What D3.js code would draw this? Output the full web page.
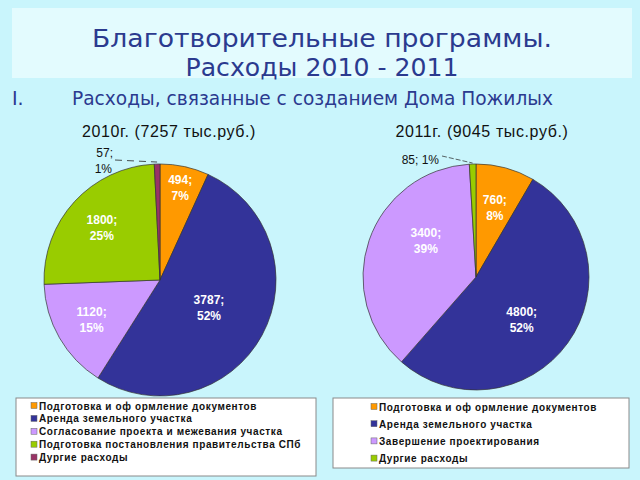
<!DOCTYPE html>
<html><head><meta charset="utf-8">
<script src="https://cdn.jsdelivr.net/npm/d3@7"></script>
<style>
html,body{margin:0;padding:0;background:#c9f5fc;}
svg{display:block;}
</style></head>
<body>
<svg id="chart" width="640" height="480"></svg>
<script>
// ---- data ----
const pageTitle = ["Благотворительные программы.", "Расходы 2010 - 2011"];
const sectionNumber = "I.";
const sectionTitle = "Расходы, связанные с созданием Дома Пожилых";

const titles2010 = "2010г. (7257 тыс.руб.)";
const categories2010 = ["Подготовка и оф ормление документов", "Аренда земельного участка", "Согласование проекта и межевания участка", "Подготовка постановления правительства СПб", "Дургие расходы"];
const values2010 = [494, 3787, 1120, 1800, 57];
const percents2010 = ["7%", "52%", "15%", "25%", "1%"];

const titles2011 = "2011г. (9045 тыс.руб.)";
const categories2011 = ["Подготовка и оф ормление документов", "Аренда земельного участка", "Завершение проектирования", "Дургие расходы"];
const values2011 = [760, 4800, 3400, 85];
const percents2011 = ["8%", "52%", "39%", "1%"];

const colors2010 = ["#ff9900", "#333399", "#cc99ff", "#99cc00", "#993366"];
const colors2011 = ["#ff9900", "#333399", "#cc99ff", "#99cc00"];

// ---- drawing ----
const svg = d3.select("#chart");
const titleColor = "#2b3a8f";
const titleFont = "DejaVu Sans";

svg.append("rect").attr("x", 12).attr("y", 8).attr("width", 620).attr("height", 70)
  .attr("fill", "#e3fbfe");
svg.append("text").attr("x", 322).attr("y", 47).attr("text-anchor", "middle")
  .attr("font-family", titleFont).attr("font-weight", "normal").attr("font-size", 25)
  .attr("fill", titleColor).attr("textLength", 460).attr("lengthAdjust", "spacingAndGlyphs").text(pageTitle[0]);
svg.append("text").attr("x", 322).attr("y", 76).attr("text-anchor", "middle")
  .attr("font-family", titleFont).attr("font-weight", "normal").attr("font-size", 25)
  .attr("fill", titleColor).attr("textLength", 273).attr("lengthAdjust", "spacingAndGlyphs").text(pageTitle[1]);
svg.append("text").attr("x", 12).attr("y", 105)
  .attr("font-family", titleFont).attr("font-weight", "normal").attr("font-size", 19)
  .attr("fill", titleColor).text(sectionNumber);
svg.append("text").attr("x", 72).attr("y", 105)
  .attr("font-family", titleFont).attr("font-weight", "normal").attr("font-size", 19)
  .attr("fill", titleColor).attr("textLength", 481).attr("lengthAdjust", "spacingAndGlyphs").text(sectionTitle);

function drawPie(opt) {
  const g = svg.append("g").attr("transform", `translate(${opt.cx},${opt.cy})`);
  const total = d3.sum(opt.values);
  const pie = d3.pie().sort(null).value(d => d)(opt.values);
  const arc = d3.arc().innerRadius(0).outerRadius(opt.r);
  g.selectAll("path").data(pie).join("path")
    .attr("d", arc)
    .attr("fill", (d, i) => opt.colors[i])
    .attr("stroke", "#333")
    .attr("stroke-width", 0.7);

  pie.forEach((d, i) => {
    const share = d.value / total;
    if (share < 0.02) return;
    const frac = opt.labelFrac(share);
    const a = (d.startAngle + d.endAngle) / 2 + opt.labelRot(share);
    const x = Math.sin(a) * opt.r * frac, y = -Math.cos(a) * opt.r * frac;
    const t = g.append("text").attr("text-anchor", "middle")
      .attr("font-family", "Liberation Sans, Arial").attr("font-weight", "bold")
      .attr("font-size", 12).attr("fill", "#ffffff");
    t.append("tspan").attr("x", x).attr("y", y - 3).text(d.value + ";");
    t.append("tspan").attr("x", x).attr("y", y + 13).text(opt.percents[i]);
  });

  svg.append("text").attr("x", opt.titleX).attr("y", 137).attr("text-anchor", "middle")
    .attr("font-family", "Liberation Sans, Arial").attr("font-size", 16)
    .attr("letter-spacing", 0.6).attr("fill", "#111").text(opt.title);

  // legend
  const L = opt.legend;
  svg.append("rect").attr("x", L.x).attr("y", L.y).attr("width", L.w).attr("height", L.h)
    .attr("fill", "#ffffff").attr("stroke", "#8a8a8a").attr("stroke-width", 1);
  opt.categories.forEach((c, i) => {
    const yy = L.y + L.first + i * L.step;
    svg.append("rect").attr("x", L.sx).attr("y", yy - 3.5).attr("width", 6).attr("height", 6)
      .attr("fill", opt.colors[i]).attr("stroke", "#666").attr("stroke-width", 0.5);
    svg.append("text").attr("x", L.sx + 8).attr("y", yy + 3.5)
      .attr("font-family", "Liberation Sans, Arial").attr("font-weight", "bold")
      .attr("font-size", 10).attr("letter-spacing", 0.6).attr("fill", "#111").text(c);
  });
  return { g, pie, total };
}

const p1 = drawPie({ cx: 160, cy: 280, r: 116, values: values2010, colors: colors2010,
  percents: percents2010, title: titles2010, titleX: 169, categories: categories2010,
  labelFrac: s => s > 0.5 ? 0.48 : (s < 0.1 ? 0.82 : 0.68),
  labelRot: s => 0,
  legend: { x: 16, y: 398, w: 300, h: 78, first: 8, step: 12.9, sx: 31 } });
const p2 = drawPie({ cx: 476, cy: 277, r: 113, values: values2011, colors: colors2011,
  percents: percents2011, title: titles2011, titleX: 482, categories: categories2011,
  labelFrac: s => s < 0.1 ? 0.64 : 0.55,
  labelRot: s => (s > 0.3 && s < 0.5) ? 0.3 : (s > 0.5 ? 0.12 : 0),
  legend: { x: 333, y: 398, w: 296, h: 70, first: 9, step: 17.2, sx: 371 } });

// small-slice outside labels with leaders
(function () {
  const d = p1.pie[4];
  const a = (d.startAngle + d.endAngle) / 2;
  const ex = 160 + Math.sin(a) * 118, ey = 280 - Math.cos(a) * 118;
  svg.append("path").attr("d", `M115,160 L${ex},${ey}`).attr("stroke", "#222")
    .attr("stroke-width", 0.8).attr("stroke-dasharray", "7,5").attr("fill", "none");
  const t = svg.append("text").attr("text-anchor", "end")
    .attr("font-family", "Liberation Sans, Arial").attr("font-size", 12).attr("fill", "#111");
  t.append("tspan").attr("x", 113).attr("y", 157).text(d.value + ";");
  t.append("tspan").attr("x", 112).attr("y", 173).text(percents2010[4]);
})();
(function () {
  const d = p2.pie[3];
  const a = (d.startAngle + d.endAngle) / 2;
  const ex = 476 + Math.sin(a) * 114, ey = 277 - Math.cos(a) * 114;
  svg.append("path").attr("d", `M442,156 L${ex},${ey}`).attr("stroke", "#222")
    .attr("stroke-width", 0.7).attr("stroke-dasharray", "5,2").attr("fill", "none");
  svg.append("text").attr("x", 439).attr("y", 164).attr("text-anchor", "end")
    .attr("font-family", "Liberation Sans, Arial").attr("font-size", 12).attr("fill", "#111")
    .text(d.value + "; " + percents2011[3]);
})();
</script>
</body></html>
